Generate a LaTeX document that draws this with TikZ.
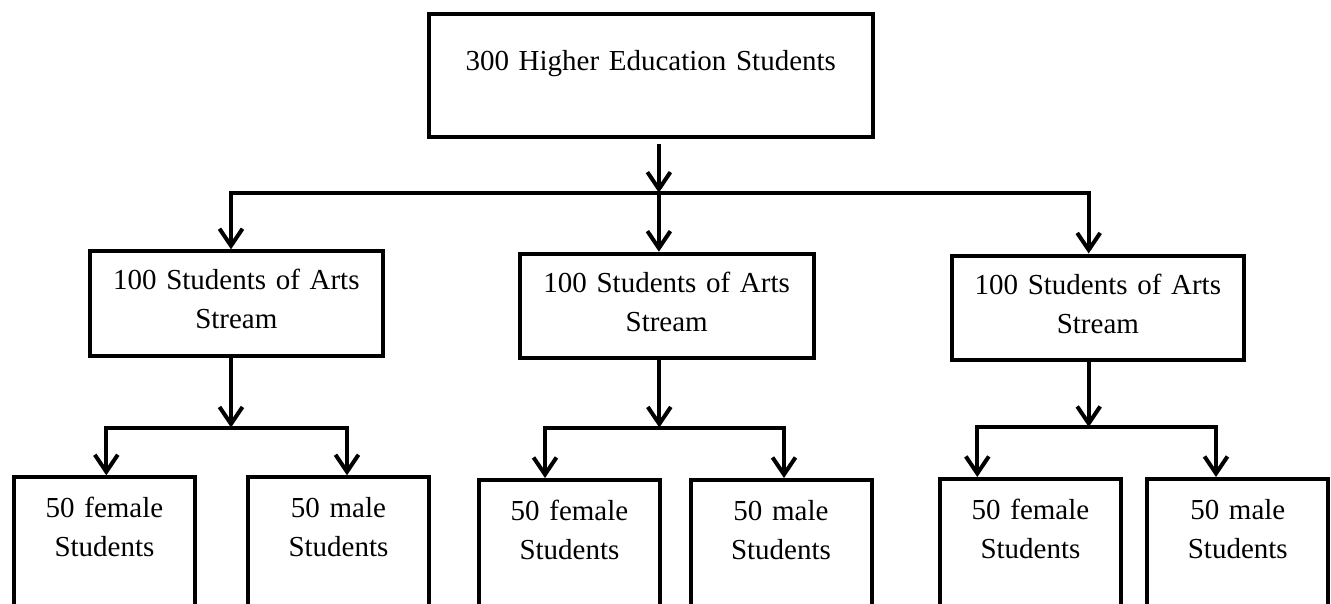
\documentclass[tikz,border=0pt]{standalone}
\usepackage{fontspec}
\setmainfont{Liberation Serif}
\usetikzlibrary{arrows.meta}
\begin{document}
\begin{tikzpicture}[x=1pt,y=-1pt,
  lw/.style={line width=4pt},
  box/.style={draw, lw, inner sep=0pt, align=center, anchor=north west,
    font=\fontsize{29}{39}\selectfont},
  midbox/.style={box, text height=38.5pt, text depth=66pt},
  lowbox/.style={box, text width=181pt, text height=40pt, text depth=200pt},
  tipb/.tip={Straight Barb[length=17pt,width=23pt]},
  arr/.style={lw, -tipb},
  biarr/.style={lw, tipb-tipb, line join=miter}]
\useasboundingbox (0,0) rectangle (1331,603);
\clip (0,0) rectangle (1331,603);
\fill[white] (0,0) rectangle (1331,603);

% boxes
\node[box, text width=443.5pt, text height=56.5pt, text depth=66.5pt] (top) at (427,12) {300 Higher Education Students};
\node[midbox, text width=293.3pt] (m1) at (87.7,249.3) {100 Students of Arts\\Stream};
\node[midbox, text width=294pt] (m2) at (517.7,251.7) {100 Students of Arts\\Stream};
\node[midbox, text width=292.3pt] (m3) at (949.7,253.5) {100 Students of Arts\\Stream};

\node[lowbox] (b1f) at (12,475.3) {50 female\\Students};
\node[lowbox] (b1m) at (246,475.3) {50 male\\Students};
\node[lowbox] (b2f) at (477,478) {50 female\\Students};
\node[lowbox] (b2m) at (688.5,478) {50 male\\Students};
\node[lowbox] (b3f) at (938,477) {50 female\\Students};
\node[lowbox] (b3m) at (1145.3,477) {50 male\\Students};

% junction points
\coordinate (j0) at (658.9,192.7);
\coordinate (h1) at (231,192.7);
\coordinate (h3) at (1088.7,192.7);
\coordinate (g1) at (231,427.5);
\coordinate (g1l) at (106.3,427.5);
\coordinate (g1r) at (347,427.5);
\coordinate (g2) at (659.3,427.5);
\coordinate (g2l) at (545,427.5);
\coordinate (g2r) at (784,427.5);
\coordinate (g3) at (1088.7,427);
\coordinate (g3l) at (977.3,427);
\coordinate (g3r) at (1216,427);

% top level connectors
\draw[arr, shorten <=4.5pt] (j0 |- top.south) -- (j0);
\draw[biarr] (h1 |- m1.north) -- (h1) -- (h3) -- (h3 |- m3.north);
\draw[arr] (j0) -- (j0 |- m2.north);

% group 1
\draw[arr] (g1 |- m1.south) -- (g1);
\draw[biarr] (g1l |- b1f.north) -- (g1l) -- (g1r) -- (g1r |- b1m.north);
% group 2
\draw[arr] (g2 |- m2.south) -- (g2);
\draw[biarr] (g2l |- b2f.north) -- (g2l) -- (g2r) -- (g2r |- b2m.north);
% group 3
\draw[arr] (g3 |- m3.south) -- (g3);
\draw[biarr] (g3l |- b3f.north) -- (g3l) -- (g3r) -- (g3r |- b3m.north);
\end{tikzpicture}
\end{document}
